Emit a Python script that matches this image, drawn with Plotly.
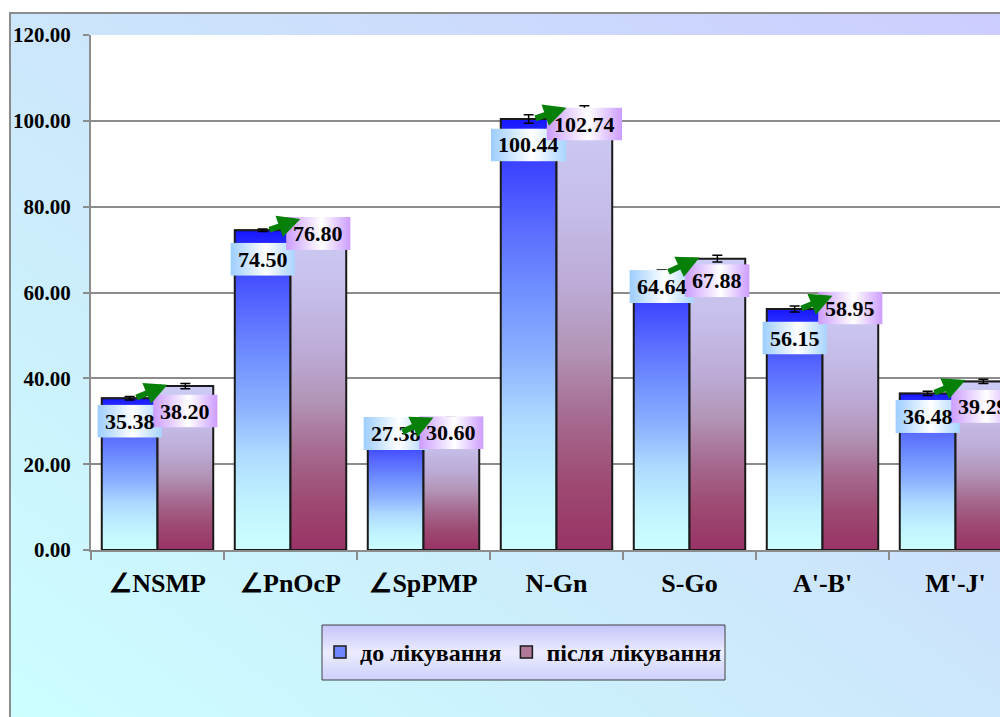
import base64
import plotly.graph_objects as go

# ---------------- data ----------------
CATEGORIES = ["∠NSMP", "∠PnOcP", "∠SpPMP", "N-Gn", "S-Go", "A'-B'", "M'-J'"]
BEFORE = [35.38, 74.50, 27.38, 100.44, 64.64, 56.15, 36.48]
AFTER = [38.20, 76.80, 30.60, 102.74, 67.88, 58.95, 39.29]
BEFORE_ERR = [0.4, 0.3, 0.4, 1.0, 0.6, 0.7, 0.5]
AFTER_ERR = [0.6, 0.4, 0.3, 0.8, 0.8, 0.6, 0.5]
SERIES_NAMES = ["до лікування", "після лікування"]
Y_TICKS = [0, 20, 40, 60, 80, 100, 120]

# ---------------- layout / style ----------------
OFF = 8                      # page body margin
W, H = 1008 - OFF, 717 - OFF
ML, MT = 91 - OFF, 35 - OFF
MB = H - (550 - OFF)
PLOT_W = W - ML
PLOT_H = H - MT - MB
CAT_PX = 133
Y_MAX = 120
PPU = PLOT_H / Y_MAX
X_MIN = -0.5
X_MAX = X_MIN + PLOT_W / CAT_PX
BARGAP = 0.162
BW = (1 - BARGAP) / 2
FONT = "Liberation Serif"
GRAY = "#8c8c8c"
LABEL_SIZE = 22

# vertical label offsets in px (below bar top)
LABEL_DY_BEFORE = [23, 29, 1, 26, 14, 29, 23]
LABEL_DY_AFTER = [25, 13, 14, 15, 22, 11, 25]

BLUE_SCALE = [[0, "#ccffff"], [0.15, "#c0f2ff"], [0.3, "#aedaff"], [0.45, "#8cb0ff"],
              [0.6, "#7090ff"], [0.76, "#5868ff"], [0.9, "#3a42ff"], [1, "#1616ff"]]
PURPLE_SCALE = [[0, "#993366"], [0.15, "#9d4a72"], [0.3, "#a66a90"], [0.45, "#b294b6"],
                [0.6, "#bcabd6"], [0.78, "#c6bee9"], [1, "#ccccf6"]]


def px_x(px):
    """reference page pixel -> paper x"""
    return (px - OFF - ML) / PLOT_W


def px_y(py):
    """reference page pixel -> paper y"""
    return (MT + PLOT_H - (py - OFF)) / PLOT_H


def svg_uri(stops, x1, y1, x2, y2):
    st = "".join(f'<stop offset="{o}" stop-color="{c}"/>' for o, c in stops)
    svg = ('<svg xmlns="http://www.w3.org/2000/svg" width="100" height="100" '
           'viewBox="0 0 100 100" preserveAspectRatio="none"><defs>'
           f'<linearGradient id="g" x1="{x1}" y1="{y1}" x2="{x2}" y2="{y2}">{st}</linearGradient>'
           '</defs><rect x="0" y="0" width="100" height="100" fill="url(#g)"/></svg>')
    return "data:image/svg+xml;base64," + base64.b64encode(svg.encode()).decode()


BG_URI = svg_uri([(0, "#ccccff"), (0.45, "#cce4fb"), (1, "#ccffff")], 1, 0, 0, 1)
LEG_URI = svg_uri([(0, "#c4c4fa"), (0.5, "#ececff"), (1, "#ccd0fa")], 0, 0, 0, 1)
BLUE_LBL_URI = svg_uri([(0, "#9ccdff"), (0.55, "#ffffff"), (1, "#a8d4ff")], 0, 0, 1, 0)
PURP_LBL_URI = svg_uri([(0, "#cc9cff"), (0.55, "#ffffff"), (1, "#cc9cff")], 0, 0, 1, 0)

X = list(range(len(CATEGORIES)))

fig = go.Figure()

# real bars (data + legend)
fig.add_trace(go.Bar(x=X, y=BEFORE, name=SERIES_NAMES[0],
                     marker=dict(color="#7086ff", line=dict(color="#1a1a1a", width=1.5)),
                     hoverinfo="y"))
fig.add_trace(go.Bar(x=X, y=AFTER, name=SERIES_NAMES[1],
                     marker=dict(color="#b27898", line=dict(color="#1a1a1a", width=1.5)),
                     hoverinfo="y"))

# gradient overlays per bar
for i, (b, a) in enumerate(zip(BEFORE, AFTER)):
    for x0, x1, v, scale in ((i - BW, i, b, BLUE_SCALE), (i, i + BW, a, PURPLE_SCALE)):
        fig.add_trace(go.Scatter(
            x=[x0, x1, x1, x0, x0], y=[0, 0, v, v, 0], mode="lines", fill="toself",
            fillgradient=dict(type="vertical", colorscale=scale),
            line=dict(color="#1a1a1a", width=2), showlegend=False, hoverinfo="skip"))

# error bars
fig.add_trace(go.Scatter(
    x=[i - BW / 2 for i in X] + [i + BW / 2 for i in X], y=BEFORE + AFTER,
    mode="markers", marker=dict(size=1, color="rgba(0,0,0,0)"),
    error_y=dict(type="data", array=BEFORE_ERR + AFTER_ERR, color="#000000", thickness=1.5, width=5),
    showlegend=False, hoverinfo="skip"))


def text_px(s):
    return sum(LABEL_SIZE * (0.5 if c.isdigit() else 0.25) for c in s)


images = [
    dict(source=BG_URI, xref="paper", yref="paper", x=px_x(10), y=px_y(13),
         sizex=(1030 - 10) / PLOT_W, sizey=(740 - 13) / PLOT_H, xanchor="left", yanchor="top",
         sizing="stretch", layer="below"),
    dict(source=LEG_URI, xref="paper", yref="paper", x=px_x(322), y=px_y(625),
         sizex=(725 - 322) / PLOT_W, sizey=(680 - 625) / PLOT_H, xanchor="left", yanchor="top",
         sizing="stretch", layer="below"),
]
annotations = []

for series, (vals, dys, xoff, uri) in enumerate((
        (BEFORE, LABEL_DY_BEFORE, -BW / 2, BLUE_LBL_URI),
        (AFTER, LABEL_DY_AFTER, BW / 2, PURP_LBL_URI))):
    for i, v in enumerate(vals):
        txt = f"{v:.2f}"
        cx = i + xoff
        cy = v - dys[i] / PPU
        wpx = text_px(txt) + 15
        images.append(dict(source=uri, xref="x", yref="y", x=cx, y=cy,
                           sizex=wpx / CAT_PX, sizey=33 / PPU, xanchor="center", yanchor="middle",
                           sizing="stretch", layer="above"))
        annotations.append(dict(x=cx, y=cy, xref="x", yref="y", text=txt, showarrow=False,
                                font=dict(family=FONT, size=LABEL_SIZE, color="black", weight="bold"),
                                xanchor="center", yanchor="middle"))

# green arrows
for i, (b, a) in enumerate(zip(BEFORE, AFTER)):
    annotations.append(dict(
        x=i + 0.075, y=a + 0.3, ax=i - BW / 2 + 0.04, ay=b, xref="x", yref="y",
        axref="x", ayref="y", text="", showarrow=True, arrowhead=2, arrowsize=0.75,
        arrowwidth=6, arrowcolor="#078007", standoff=0, startstandoff=0))

shapes = [
    dict(type="rect", xref="x domain", yref="y domain", x0=0, y0=0, x1=1, y1=1,
         line=dict(width=0), fillcolor="white", layer="below"),
    dict(type="rect", xref="paper", yref="paper", x0=px_x(10), y0=px_y(13), x1=px_x(1040),
         y1=px_y(760), line=dict(color=GRAY, width=2), fillcolor="rgba(0,0,0,0)", layer="below"),
    dict(type="rect", xref="paper", yref="paper", x0=px_x(322), y0=px_y(625), x1=px_x(725),
         y1=px_y(680), line=dict(color="#404040", width=1), fillcolor="rgba(0,0,0,0)", layer="above"),
]

fig.update_layout(
    width=W, height=H, autosize=False,
    margin=dict(l=ML, r=0, t=MT, b=MB, pad=0),
    paper_bgcolor="white", plot_bgcolor="white",
    barmode="group", bargap=BARGAP, bargroupgap=0,
    images=images, annotations=annotations, shapes=shapes,
    showlegend=True,
    legend=dict(orientation="h", x=px_x(523.5), y=px_y(652.5), xanchor="center", yanchor="middle",
                bgcolor="rgba(0,0,0,0)", borderwidth=0,
                font=dict(family=FONT, size=24, color="black", weight="bold"),
                itemwidth=30, tracegroupgap=0),
    xaxis=dict(range=[X_MIN, X_MAX], tickmode="array", tickvals=X, ticktext=CATEGORIES,
               ticks="", showgrid=False, zeroline=False, showline=True, linecolor=GRAY,
               linewidth=2, ticklabelstandoff=9,
               tickfont=dict(family=FONT, size=26, color="black", weight="bold"),
               minor=dict(tickmode="array", tickvals=[i - 0.5 for i in range(len(X) + 1)],
                          ticks="outside", ticklen=8, tickcolor=GRAY, tickwidth=1.5, showgrid=False)),
    yaxis=dict(range=[0, Y_MAX], tickmode="array", tickvals=Y_TICKS, tickformat=".2f",
               ticks="outside", ticklen=6, tickcolor=GRAY, tickwidth=1.5,
               showgrid=True, gridcolor=GRAY, gridwidth=1.5, zeroline=False,
               showline=True, linecolor=GRAY, linewidth=2, ticklabelstandoff=8,
               tickfont=dict(family=FONT, size=21, color="black", weight="bold")),
)

fig.write_html("out.html")
